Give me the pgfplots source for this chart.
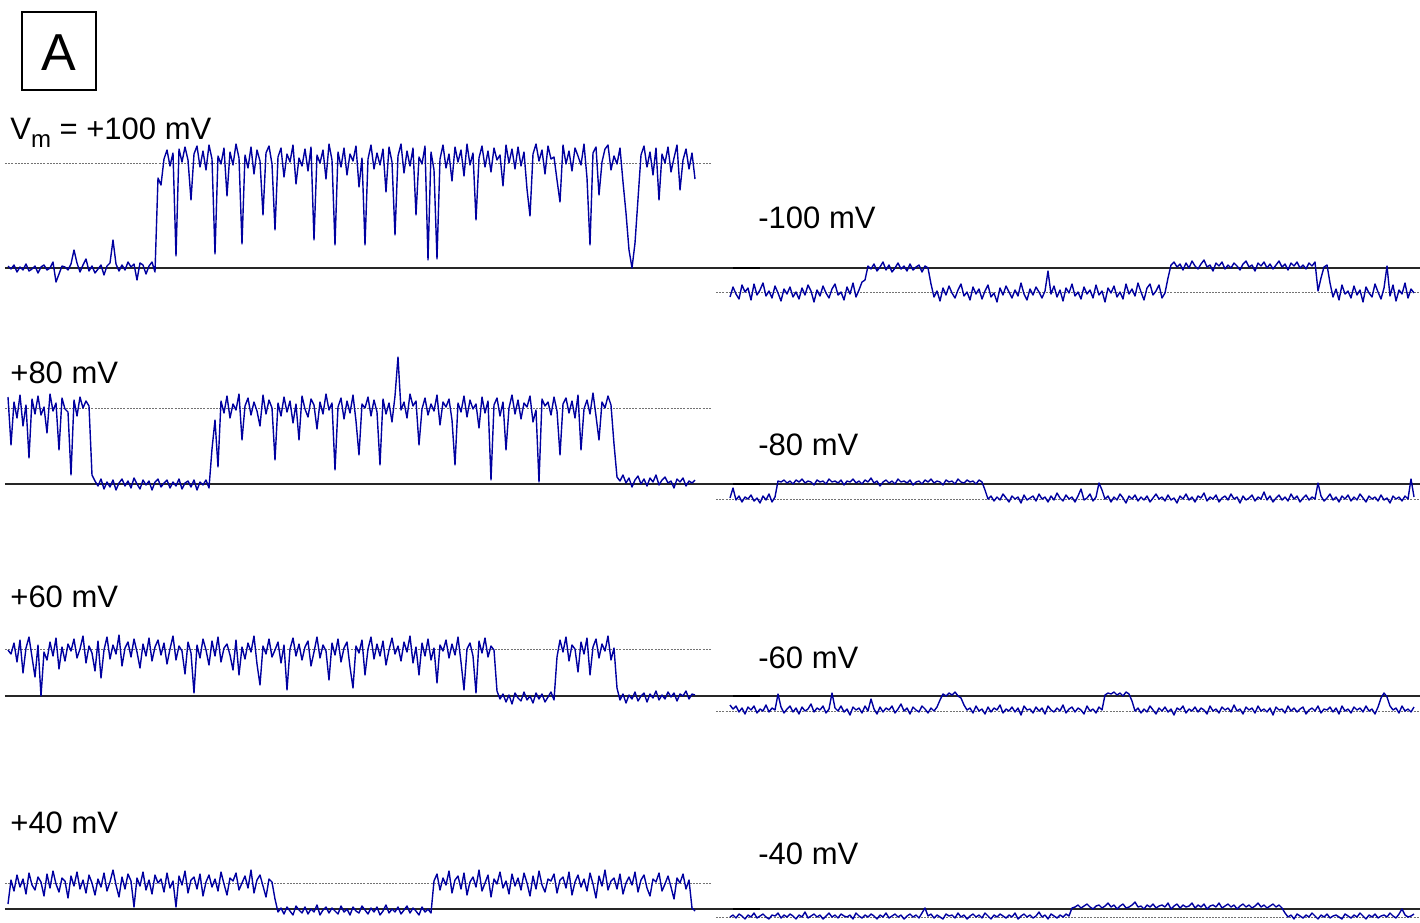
\documentclass[border=0pt]{standalone}
\usepackage{fontspec}
\setmainfont{Liberation Sans}
\usepackage{pgfplots}
\usepackage{pgfplotstable}
\pgfplotsset{compat=1.18}
\definecolor{trblue}{RGB}{0,0,160}

% single-channel records, one sample every 3 ms, current in pA
% +100 mV
\pgfplotstableread[row sep=\\]{
y\\
0.2\\ -0.1\\ 0.3\\ -0.4\\ 0.1\\ -0.2\\ 0.4\\ -0.3\\ -0.1\\ 0.2\\
-0.5\\ 0.1\\ 0.3\\ -0.2\\ 0.0\\ 0.6\\ -1.4\\ -0.6\\ 0.2\\ 0.1\\
-0.2\\ 0.4\\ 1.8\\ 0.5\\ -0.4\\ 0.3\\ 0.9\\ -0.3\\ 0.2\\ -0.5\\
-0.1\\ 0.3\\ -0.7\\ 0.2\\ 0.5\\ 2.8\\ 0.4\\ -0.3\\ 0.3\\ -0.2\\
0.6\\ 0.1\\ 0.4\\ -1.2\\ 0.5\\ 0.3\\ -0.6\\ 0.2\\ 0.6\\ -0.4\\
9.0\\ 8.3\\ 10.9\\ 11.8\\ 10.2\\ 11.5\\ 1.2\\ 11.9\\ 10.6\\ 12.1\\
10.8\\ 6.8\\ 11.4\\ 12.2\\ 10.1\\ 11.7\\ 9.8\\ 12.3\\ 10.9\\ 1.4\\
11.2\\ 10.4\\ 12.0\\ 7.2\\ 11.6\\ 10.3\\ 12.4\\ 11.0\\ 2.4\\ 11.3\\
10.0\\ 12.1\\ 9.4\\ 11.8\\ 10.7\\ 5.3\\ 11.5\\ 12.2\\ 10.4\\ 3.8\\
11.1\\ 12.0\\ 9.1\\ 11.4\\ 10.6\\ 12.3\\ 8.4\\ 11.0\\ 10.2\\ 11.9\\
9.7\\ 12.1\\ 2.8\\ 11.3\\ 10.5\\ 11.8\\ 8.9\\ 12.4\\ 10.8\\ 2.3\\
11.6\\ 10.1\\ 12.0\\ 9.3\\ 11.4\\ 10.7\\ 12.2\\ 8.1\\ 11.0\\ 2.3\\
10.9\\ 12.3\\ 9.9\\ 11.5\\ 10.3\\ 11.9\\ 7.6\\ 12.1\\ 10.6\\ 3.3\\
11.2\\ 12.4\\ 9.5\\ 11.7\\ 10.2\\ 12.0\\ 5.3\\ 11.1\\ 10.4\\ 12.2\\
0.8\\ 11.6\\ 9.8\\ 0.9\\ 10.9\\ 12.3\\ 10.0\\ 11.4\\ 8.7\\ 12.1\\
10.6\\ 11.8\\ 9.2\\ 12.4\\ 10.3\\ 11.5\\ 4.8\\ 11.0\\ 12.2\\ 10.1\\
11.7\\ 9.6\\ 12.0\\ 10.8\\ 11.3\\ 8.2\\ 12.3\\ 10.5\\ 11.9\\ 9.9\\
12.1\\ 10.2\\ 11.6\\ 7.9\\ 5.2\\ 11.4\\ 12.4\\ 10.7\\ 11.8\\ 9.4\\
12.2\\ 10.9\\ 11.1\\ 8.8\\ 6.6\\ 12.3\\ 10.4\\ 11.7\\ 9.7\\ 12.0\\
11.2\\ 10.3\\ 12.4\\ 9.0\\ 2.3\\ 11.5\\ 12.1\\ 7.3\\ 10.6\\ 11.9\\
12.3\\ 9.8\\ 11.2\\ 10.4\\ 12.0\\ 8.6\\ 5.5\\ 1.8\\ 0.0\\ 2.5\\
6.9\\ 11.3\\ 12.2\\ 10.1\\ 11.6\\ 9.3\\ 12.0\\ 6.8\\ 11.4\\ 10.5\\
12.1\\ 9.6\\ 11.0\\ 12.3\\ 7.8\\ 10.8\\ 11.9\\ 9.9\\ 11.5\\ 8.9\\
}\tPa
% +80 mV
\pgfplotstableread[row sep=\\]{
y\\
8.7\\ 3.9\\ 8.2\\ 6.6\\ 8.9\\ 5.8\\ 7.9\\ 2.6\\ 8.5\\ 7.0\\
8.8\\ 6.9\\ 7.7\\ 5.1\\ 9.0\\ 7.3\\ 8.1\\ 3.4\\ 8.6\\ 7.5\\
7.2\\ 0.9\\ 8.4\\ 6.8\\ 8.7\\ 7.6\\ 8.3\\ 7.8\\ 0.9\\ 0.3\\
-0.2\\ 0.5\\ -0.5\\ 0.2\\ -0.3\\ 0.4\\ -0.6\\ 0.1\\ 0.5\\ -0.2\\
0.3\\ -0.4\\ 0.6\\ 0.0\\ -0.5\\ 0.4\\ -0.1\\ 0.3\\ -0.6\\ 0.2\\
0.5\\ -0.3\\ 0.1\\ 0.4\\ -0.4\\ 0.2\\ -0.2\\ 0.5\\ -0.5\\ 0.1\\
0.3\\ -0.3\\ 0.4\\ -0.6\\ 0.2\\ -0.1\\ 0.4\\ -0.4\\ 3.5\\ 6.4\\
1.7\\ 8.3\\ 7.1\\ 8.8\\ 6.6\\ 8.0\\ 7.4\\ 9.0\\ 4.4\\ 7.8\\
8.6\\ 6.9\\ 8.2\\ 7.3\\ 5.8\\ 8.9\\ 7.0\\ 8.4\\ 7.6\\ 2.4\\
8.1\\ 6.8\\ 8.7\\ 7.2\\ 8.3\\ 6.1\\ 8.0\\ 4.4\\ 8.8\\ 7.5\\
6.7\\ 8.5\\ 7.9\\ 5.5\\ 8.2\\ 7.0\\ 9.0\\ 7.4\\ 8.1\\ 1.4\\
7.7\\ 8.6\\ 6.5\\ 8.3\\ 7.1\\ 8.9\\ 6.3\\ 2.9\\ 8.0\\ 7.6\\
8.7\\ 6.8\\ 8.4\\ 7.2\\ 1.9\\ 8.5\\ 7.0\\ 8.1\\ 6.2\\ 8.8\\
12.7\\ 7.4\\ 8.2\\ 6.6\\ 9.0\\ 7.8\\ 8.3\\ 3.9\\ 7.5\\ 8.6\\
6.9\\ 8.0\\ 7.3\\ 8.9\\ 5.9\\ 8.2\\ 7.7\\ 8.5\\ 6.4\\ 1.9\\
8.1\\ 7.2\\ 8.8\\ 6.7\\ 8.4\\ 7.5\\ 8.0\\ 5.6\\ 8.7\\ 7.1\\
8.3\\ 0.4\\ 7.9\\ 8.6\\ 6.8\\ 8.2\\ 3.4\\ 7.6\\ 8.9\\ 7.0\\
8.4\\ 6.5\\ 8.1\\ 7.7\\ 8.8\\ 6.2\\ 7.4\\ 0.2\\ 8.5\\ 7.8\\
8.2\\ 6.9\\ 8.7\\ 7.3\\ 2.9\\ 8.0\\ 8.6\\ 7.1\\ 8.3\\ 6.6\\
8.9\\ 3.4\\ 7.5\\ 8.4\\ 7.0\\ 9.1\\ 6.8\\ 4.4\\ 8.2\\ 7.6\\
8.8\\ 7.9\\ 4.0\\ 0.7\\ 0.3\\ 0.9\\ 0.1\\ 0.6\\ -0.3\\ 0.4\\
0.8\\ 0.0\\ 0.5\\ -0.2\\ 0.6\\ 0.2\\ 0.9\\ -0.1\\ 0.4\\ 0.7\\
0.1\\ 0.3\\ -0.4\\ 0.5\\ 0.2\\ 0.6\\ -0.2\\ 0.3\\ 0.1\\ 0.4\\
}\tPb
% +60 mV
\pgfplotstableread[row sep=\\]{
y\\
4.6\\ 4.2\\ 5.3\\ 3.4\\ 5.6\\ 2.3\\ 4.8\\ 5.9\\ 3.9\\ 1.9\\
5.1\\ 0.0\\ 4.4\\ 3.6\\ 5.4\\ 4.0\\ 5.8\\ 2.7\\ 4.9\\ 3.5\\
5.2\\ 4.5\\ 5.7\\ 3.8\\ 4.7\\ 6.0\\ 3.3\\ 5.0\\ 4.3\\ 2.5\\
5.5\\ 1.8\\ 4.6\\ 5.9\\ 3.7\\ 5.1\\ 4.2\\ 6.1\\ 3.0\\ 4.8\\
5.4\\ 3.9\\ 5.7\\ 4.4\\ 2.8\\ 5.2\\ 4.0\\ 5.8\\ 3.5\\ 4.9\\
5.6\\ 4.1\\ 5.3\\ 3.2\\ 4.7\\ 6.0\\ 3.6\\ 5.0\\ 4.5\\ 2.2\\
5.4\\ 4.3\\ 0.3\\ 5.1\\ 3.8\\ 5.7\\ 4.6\\ 3.1\\ 5.5\\ 4.0\\
5.9\\ 3.4\\ 4.8\\ 5.2\\ 4.1\\ 2.6\\ 5.6\\ 2.1\\ 4.9\\ 3.7\\
5.3\\ 4.4\\ 6.0\\ 3.2\\ 1.1\\ 5.0\\ 4.2\\ 5.7\\ 3.9\\ 4.6\\
5.4\\ 3.3\\ 5.1\\ 0.6\\ 4.7\\ 5.8\\ 4.0\\ 5.2\\ 3.6\\ 4.9\\
5.5\\ 3.0\\ 4.4\\ 5.9\\ 3.8\\ 5.1\\ 4.5\\ 1.6\\ 5.3\\ 4.1\\
5.7\\ 3.4\\ 4.8\\ 5.4\\ 2.9\\ 0.8\\ 5.0\\ 4.3\\ 5.6\\ 2.1\\
4.7\\ 5.9\\ 3.7\\ 5.2\\ 4.0\\ 5.5\\ 3.1\\ 4.6\\ 5.8\\ 4.2\\
5.0\\ 3.5\\ 5.4\\ 4.4\\ 6.0\\ 3.3\\ 4.9\\ 2.1\\ 5.3\\ 4.0\\
5.7\\ 3.6\\ 4.8\\ 1.3\\ 5.1\\ 4.5\\ 5.6\\ 3.8\\ 5.2\\ 4.1\\
5.9\\ 3.4\\ 0.6\\ 4.7\\ 5.3\\ 4.0\\ 0.3\\ 5.5\\ 4.3\\ 5.8\\
3.9\\ 5.0\\ 4.6\\ 0.5\\ -0.3\\ 0.2\\ -0.6\\ 0.1\\ -0.8\\ 0.3\\
-0.2\\ -0.5\\ 0.4\\ -0.4\\ 0.0\\ -0.7\\ 0.3\\ -0.3\\ 0.2\\ -0.6\\
-0.1\\ 0.4\\ -0.4\\ 3.9\\ 5.6\\ 4.4\\ 5.9\\ 3.5\\ 5.1\\ 4.7\\
2.4\\ 5.4\\ 4.2\\ 5.8\\ 2.1\\ 4.9\\ 5.7\\ 3.8\\ 5.2\\ 4.5\\
6.0\\ 3.6\\ 4.8\\ 0.8\\ -0.4\\ 0.2\\ -0.7\\ 0.1\\ -0.3\\ 0.4\\
-0.5\\ 0.0\\ 0.3\\ -0.6\\ 0.2\\ -0.2\\ 0.5\\ -0.4\\ 0.1\\ -0.3\\
0.4\\ -0.1\\ 0.3\\ -0.5\\ 0.2\\ 0.0\\ 0.5\\ -0.3\\ 0.2\\ 0.1\\
}\tPc
% +40 mV
\pgfplotstableread[row sep=\\]{
y\\
0.5\\ 2.9\\ 1.8\\ 3.4\\ 2.2\\ 3.0\\ 1.5\\ 3.6\\ 2.4\\ 1.9\\
3.2\\ 2.7\\ 1.3\\ 3.5\\ 2.1\\ 3.8\\ 2.5\\ 1.7\\ 3.1\\ 2.8\\
1.1\\ 3.3\\ 2.3\\ 3.7\\ 2.0\\ 2.9\\ 1.6\\ 3.4\\ 2.6\\ 1.4\\
3.0\\ 2.2\\ 3.6\\ 1.8\\ 2.7\\ 3.9\\ 2.4\\ 1.2\\ 3.2\\ 2.0\\
3.5\\ 2.8\\ 0.2\\ 3.1\\ 2.3\\ 3.7\\ 1.9\\ 2.9\\ 1.5\\ 3.4\\
2.6\\ 3.0\\ 1.7\\ 3.6\\ 2.1\\ 2.8\\ 0.2\\ 3.3\\ 2.4\\ 3.8\\
1.6\\ 2.9\\ 3.2\\ 2.0\\ 3.5\\ 1.3\\ 2.7\\ 3.4\\ 2.2\\ 3.0\\
1.8\\ 3.7\\ 2.5\\ 1.4\\ 3.1\\ 2.8\\ 3.6\\ 1.9\\ 2.6\\ 3.3\\
2.1\\ 3.9\\ 1.6\\ 2.9\\ 3.4\\ 2.3\\ 1.2\\ 3.0\\ 2.7\\ 1.0\\
-0.3\\ 0.1\\ -0.5\\ 0.2\\ -0.2\\ -0.6\\ 0.3\\ -0.1\\ -0.4\\ 0.2\\
-0.5\\ 0.0\\ -0.3\\ 0.4\\ -0.6\\ -0.1\\ 0.2\\ -0.4\\ 0.1\\ -0.2\\
-0.5\\ 0.3\\ -0.3\\ 0.0\\ -0.6\\ 0.2\\ -0.2\\ -0.4\\ 0.3\\ -0.1\\
-0.5\\ 0.1\\ -0.3\\ 0.2\\ -0.6\\ -0.2\\ 0.4\\ -0.4\\ 0.0\\ -0.3\\
0.2\\ -0.5\\ -0.1\\ 0.3\\ -0.4\\ 0.1\\ -0.2\\ -0.6\\ 0.2\\ -0.3\\
0.0\\ -0.4\\ 2.8\\ 3.5\\ 1.9\\ 3.1\\ 2.4\\ 3.8\\ 1.6\\ 2.9\\
3.3\\ 2.0\\ 3.6\\ 1.4\\ 2.7\\ 3.2\\ 2.2\\ 3.9\\ 1.8\\ 2.6\\
3.4\\ 1.2\\ 3.0\\ 2.5\\ 3.7\\ 2.1\\ 2.8\\ 1.5\\ 3.5\\ 2.3\\
3.1\\ 1.9\\ 3.6\\ 2.6\\ 1.3\\ 3.3\\ 2.0\\ 3.8\\ 2.4\\ 1.7\\
3.0\\ 2.8\\ 3.5\\ 1.6\\ 2.9\\ 3.2\\ 2.1\\ 3.7\\ 1.4\\ 2.7\\
3.4\\ 2.2\\ 3.0\\ 1.8\\ 3.6\\ 2.5\\ 1.1\\ 3.3\\ 2.3\\ 3.9\\
1.9\\ 2.8\\ 3.1\\ 2.0\\ 3.5\\ 1.5\\ 2.6\\ 3.2\\ 2.4\\ 3.7\\
1.7\\ 2.9\\ 3.4\\ 2.1\\ 1.3\\ 3.0\\ 2.7\\ 3.6\\ 1.8\\ 2.5\\
3.3\\ 2.2\\ 1.0\\ 3.1\\ 2.6\\ 3.5\\ 2.0\\ 2.9\\ 0.1\\ -0.2\\
}\tPd
% -100 mV
\pgfplotstableread[row sep=\\]{
y\\
-2.9\\ -1.9\\ -2.6\\ -3.1\\ -1.7\\ -2.4\\ -2.0\\ -3.2\\ -1.6\\ -2.7\\
-2.2\\ -1.5\\ -2.8\\ -2.3\\ -3.0\\ -1.8\\ -2.5\\ -3.3\\ -2.1\\ -2.6\\
-1.9\\ -2.9\\ -2.4\\ -3.1\\ -2.0\\ -2.7\\ -1.7\\ -2.3\\ -3.4\\ -2.2\\
-2.8\\ -1.8\\ -2.5\\ -3.0\\ -2.1\\ -1.6\\ -2.7\\ -2.4\\ -3.2\\ -1.9\\
-2.6\\ -1.5\\ -2.9\\ -2.2\\ -1.4\\ -1.2\\ 0.2\\ -0.1\\ 0.4\\ -0.3\\
0.1\\ 0.6\\ -0.2\\ 0.3\\ -0.4\\ 0.0\\ 0.5\\ -0.1\\ 0.2\\ -0.3\\
0.4\\ -0.2\\ 0.1\\ 0.3\\ -0.4\\ 0.2\\ 0.0\\ -1.6\\ -2.9\\ -2.3\\
-3.3\\ -2.0\\ -2.7\\ -1.8\\ -2.5\\ -3.0\\ -2.2\\ -1.6\\ -2.8\\ -2.4\\
-3.2\\ -1.9\\ -2.6\\ -2.1\\ -3.1\\ -2.3\\ -1.7\\ -2.9\\ -2.5\\ -3.4\\
-2.0\\ -2.7\\ -1.8\\ -2.4\\ -3.0\\ -2.2\\ -2.8\\ -1.5\\ -2.6\\ -3.2\\
-2.1\\ -2.7\\ -1.9\\ -2.4\\ -3.0\\ -2.3\\ -0.3\\ -2.6\\ -1.8\\ -2.9\\
-2.2\\ -3.3\\ -2.0\\ -2.5\\ -1.6\\ -2.8\\ -2.4\\ -3.1\\ -1.9\\ -2.6\\
-2.2\\ -3.0\\ -1.7\\ -2.7\\ -2.3\\ -3.4\\ -2.0\\ -2.5\\ -1.8\\ -2.9\\
-2.4\\ -3.1\\ -1.6\\ -2.6\\ -2.1\\ -2.8\\ -1.5\\ -2.4\\ -3.2\\ -2.0\\
-1.6\\ -2.7\\ -2.3\\ -1.7\\ -3.0\\ -2.5\\ -1.0\\ 0.3\\ 0.6\\ 0.1\\
0.4\\ -0.2\\ 0.5\\ 0.0\\ 0.7\\ 0.2\\ -0.1\\ 0.4\\ 0.8\\ 0.1\\
0.3\\ -0.3\\ 0.5\\ 0.2\\ 0.6\\ -0.1\\ 0.3\\ 0.0\\ 0.5\\ 0.2\\
-0.2\\ 0.4\\ 0.7\\ 0.1\\ 0.3\\ -0.3\\ 0.5\\ 0.2\\ 0.6\\ 0.0\\
0.4\\ -0.1\\ 0.3\\ 0.7\\ 0.1\\ 0.4\\ -0.2\\ 0.5\\ 0.2\\ 0.6\\
0.0\\ 0.3\\ -0.1\\ 0.5\\ 0.2\\ 0.6\\ -2.3\\ -1.0\\ 0.1\\ 0.3\\
-1.5\\ -2.9\\ -2.1\\ -3.2\\ -1.7\\ -2.6\\ -2.3\\ -3.0\\ -1.8\\ -2.7\\
-2.2\\ -3.4\\ -1.9\\ -2.5\\ -2.9\\ -1.6\\ -2.4\\ -3.1\\ -2.0\\ 0.2\\
-2.8\\ -1.7\\ -3.3\\ -2.2\\ -2.6\\ -1.5\\ -3.0\\ -2.1\\ -2.5\\
}\tMa
% -80 mV
\pgfplotstableread[row sep=\\]{
y\\
-1.4\\ -0.4\\ -1.6\\ -1.2\\ -1.8\\ -1.3\\ -1.5\\ -1.1\\ -1.7\\ -1.4\\
-1.9\\ -1.2\\ -1.6\\ -1.0\\ -1.8\\ -1.3\\ 0.3\\ 0.2\\ 0.4\\ 0.1\\
0.3\\ 0.0\\ 0.4\\ 0.2\\ 0.5\\ 0.1\\ 0.3\\ 0.2\\ -0.1\\ 0.4\\
0.2\\ 0.3\\ 0.0\\ 0.5\\ 0.2\\ 0.3\\ 0.1\\ 0.4\\ -0.1\\ 0.3\\
0.2\\ 0.5\\ 0.1\\ 0.3\\ 0.0\\ 0.4\\ 0.2\\ 0.6\\ 0.1\\ 0.3\\
-0.2\\ 0.2\\ 0.4\\ 0.1\\ 0.3\\ 0.0\\ 0.5\\ 0.2\\ 0.3\\ 0.1\\
0.4\\ -0.1\\ 0.2\\ 0.3\\ 0.0\\ 0.4\\ 0.2\\ 0.5\\ 0.1\\ 0.3\\
0.2\\ -0.1\\ 0.4\\ 0.2\\ 0.3\\ 0.0\\ 0.5\\ 0.2\\ 0.1\\ 0.4\\
0.2\\ 0.3\\ 0.0\\ 0.4\\ 0.2\\ -0.6\\ -1.5\\ -1.2\\ -1.7\\ -1.3\\
-1.6\\ -1.0\\ -1.4\\ -1.8\\ -1.2\\ -1.5\\ -1.3\\ -1.9\\ -1.1\\ -1.6\\
-1.4\\ -1.2\\ -1.7\\ -1.0\\ -1.5\\ -1.3\\ -1.8\\ -1.2\\ -1.6\\ -0.9\\
-1.4\\ -1.7\\ -1.1\\ -1.5\\ -1.3\\ -1.8\\ -1.2\\ -0.5\\ -1.6\\ -1.4\\
-1.0\\ -1.7\\ -1.3\\ 0.1\\ -0.6\\ -1.5\\ -1.2\\ -1.8\\ -1.3\\ -1.6\\
-1.0\\ -1.4\\ -1.9\\ -1.2\\ -1.5\\ -1.1\\ -1.7\\ -1.3\\ -1.6\\ -1.2\\
-1.8\\ -1.4\\ -1.0\\ -1.5\\ -1.3\\ -1.7\\ -1.1\\ -1.6\\ -1.4\\ -1.9\\
-1.2\\ -1.5\\ -1.0\\ -1.6\\ -1.3\\ -1.8\\ -1.2\\ -1.4\\ -0.9\\ -1.7\\
-1.3\\ -1.5\\ -1.1\\ -1.8\\ -1.4\\ -1.2\\ -1.6\\ -1.0\\ -1.5\\ -1.3\\
-1.9\\ -1.2\\ -1.6\\ -1.4\\ -1.1\\ -1.7\\ -1.3\\ -1.5\\ -0.8\\ -1.6\\
-1.2\\ -1.8\\ -1.4\\ -1.1\\ -1.6\\ -1.3\\ -1.7\\ -1.0\\ -1.5\\ -1.2\\
-1.8\\ -1.4\\ -1.1\\ -1.6\\ -1.3\\ -1.5\\ 0.1\\ -1.2\\ -1.7\\ -1.4\\
-1.0\\ -1.6\\ -1.3\\ -1.8\\ -1.2\\ -1.5\\ -1.1\\ -1.7\\ -1.3\\ -1.6\\
-1.0\\ -1.4\\ -1.8\\ -1.2\\ -1.5\\ -1.3\\ -1.7\\ -1.1\\ -1.6\\ -1.4\\
-1.9\\ -1.2\\ -1.5\\ -1.3\\ -1.7\\ -1.2\\ -1.5\\ 0.5\\ -1.3\\
}\tMb
% -60 mV
\pgfplotstableread[row sep=\\]{
y\\
-0.9\\ -1.3\\ -1.0\\ -1.6\\ -1.2\\ -1.8\\ -1.1\\ -1.4\\ -1.0\\ -1.7\\
-1.3\\ -1.5\\ -0.9\\ -1.6\\ -1.2\\ -1.4\\ 0.2\\ -1.1\\ -1.7\\ -1.3\\
-1.0\\ -1.6\\ -1.2\\ -1.8\\ -1.1\\ -1.5\\ -1.3\\ -0.8\\ -1.6\\ -1.2\\
-1.4\\ -1.0\\ -1.7\\ -1.3\\ 0.3\\ -1.2\\ -1.5\\ -1.0\\ -1.6\\ -1.3\\
-1.9\\ -1.1\\ -1.4\\ -1.2\\ -1.7\\ -1.0\\ -1.5\\ -0.3\\ -1.3\\ -1.8\\
-1.1\\ -1.6\\ -1.2\\ -1.4\\ -1.0\\ -1.7\\ -1.3\\ -0.8\\ -1.5\\ -1.2\\
-1.8\\ -1.1\\ -1.4\\ -1.6\\ -1.0\\ -1.3\\ -1.7\\ -1.2\\ -1.5\\ -1.1\\
-0.4\\ 0.2\\ 0.0\\ 0.3\\ 0.1\\ 0.4\\ 0.0\\ -0.2\\ -0.9\\ -1.4\\
-1.2\\ -1.7\\ -1.0\\ -1.5\\ -1.3\\ -1.8\\ -1.1\\ -1.6\\ -1.2\\ -1.4\\
-0.9\\ -1.7\\ -1.3\\ -1.5\\ -1.1\\ -1.6\\ -1.2\\ -1.9\\ -1.0\\ -1.4\\
-1.3\\ -1.7\\ -1.1\\ -1.5\\ -1.2\\ -1.8\\ -1.0\\ -1.4\\ -1.6\\ -1.2\\
-1.5\\ -0.9\\ -1.7\\ -1.3\\ -1.1\\ -1.6\\ -1.2\\ -1.4\\ -1.8\\ -1.0\\
-1.5\\ -1.3\\ -1.7\\ -1.1\\ -1.4\\ 0.1\\ 0.3\\ 0.2\\ 0.4\\ 0.1\\
0.3\\ 0.0\\ 0.4\\ 0.2\\ -0.5\\ -1.5\\ -1.2\\ -1.7\\ -1.3\\ -1.6\\
-1.0\\ -1.4\\ -1.8\\ -1.2\\ -1.5\\ -1.1\\ -1.6\\ -1.3\\ -1.9\\ -1.2\\
-1.4\\ -1.0\\ -1.7\\ -1.3\\ -1.5\\ -1.1\\ -1.6\\ -1.2\\ -1.4\\ -1.8\\
-1.0\\ -1.5\\ -1.3\\ -1.7\\ -1.1\\ -1.4\\ -1.2\\ -1.6\\ -0.9\\ -1.5\\
-1.3\\ -1.8\\ -1.1\\ -1.4\\ -1.2\\ -1.7\\ -1.0\\ -1.5\\ -1.3\\ -1.6\\
-1.2\\ -1.9\\ -1.1\\ -1.4\\ -1.3\\ -1.7\\ -1.0\\ -1.5\\ -1.2\\ -1.6\\
-1.3\\ -1.1\\ -1.8\\ -1.4\\ -1.2\\ -1.5\\ -1.0\\ -1.7\\ -1.3\\ -1.4\\
-1.1\\ -1.6\\ -1.2\\ -1.8\\ -1.0\\ -1.5\\ -1.3\\ -1.7\\ -1.1\\ -1.4\\
-1.2\\ -1.6\\ -1.0\\ -1.5\\ -1.3\\ -1.8\\ -1.1\\ -0.2\\ 0.3\\ -0.1\\
-1.0\\ -1.4\\ -1.2\\ -1.7\\ -1.0\\ -1.5\\ -1.3\\ -1.6\\ -1.1\\
}\tMc
% -40 mV
\pgfplotstableread[row sep=\\]{
y\\
-0.8\\ -0.6\\ -0.9\\ -0.5\\ -0.7\\ -1.0\\ -0.6\\ -0.8\\ -0.4\\ -0.9\\
-0.7\\ -0.5\\ -0.8\\ -1.0\\ -0.6\\ -0.7\\ -0.4\\ -0.9\\ -0.6\\ -0.8\\
-0.5\\ -0.7\\ -1.0\\ -0.6\\ -0.8\\ -0.3\\ -0.9\\ -0.7\\ -0.5\\ -0.8\\
-0.6\\ -1.0\\ -0.7\\ -0.4\\ -0.8\\ -0.6\\ -0.9\\ -0.5\\ -0.7\\ -0.8\\
-0.6\\ -1.0\\ -0.4\\ -0.7\\ -0.9\\ -0.6\\ -0.8\\ -0.5\\ -0.7\\ -1.0\\
-0.6\\ -0.8\\ -0.4\\ -0.9\\ -0.7\\ -0.5\\ -0.8\\ -0.6\\ -1.0\\ -0.7\\
-0.5\\ -0.8\\ -0.6\\ -0.9\\ -0.4\\ 0.1\\ -0.7\\ -0.5\\ -0.9\\ -0.6\\
-0.8\\ -1.0\\ -0.5\\ -0.7\\ -0.6\\ -0.9\\ -0.4\\ -0.8\\ -0.6\\ -1.0\\
-0.7\\ -0.5\\ -0.8\\ -0.6\\ -0.9\\ -0.4\\ -0.7\\ -1.0\\ -0.6\\ -0.8\\
-0.5\\ -0.7\\ -0.9\\ -0.6\\ -0.8\\ -0.4\\ -1.0\\ -0.7\\ -0.5\\ -0.8\\
-0.6\\ -0.9\\ -0.7\\ -0.3\\ -0.8\\ -0.6\\ -1.0\\ -0.5\\ -0.7\\ -0.9\\
-0.6\\ -0.8\\ -0.5\\ -0.7\\ 0.1\\ 0.2\\ 0.4\\ 0.1\\ 0.3\\ 0.5\\
0.2\\ 0.0\\ 0.3\\ 0.4\\ 0.1\\ 0.3\\ 0.6\\ 0.2\\ 0.4\\ 0.0\\
0.3\\ 0.5\\ 0.1\\ 0.2\\ 0.4\\ 0.7\\ 0.2\\ 0.3\\ 0.0\\ 0.4\\
0.2\\ 0.5\\ 0.1\\ 0.3\\ 0.4\\ 0.2\\ 0.6\\ 0.0\\ 0.3\\ 0.5\\
0.1\\ 0.4\\ 0.2\\ 0.3\\ 0.6\\ 0.1\\ 0.4\\ 0.2\\ 0.5\\ 0.0\\
0.3\\ 0.4\\ 0.2\\ 0.6\\ 0.1\\ 0.3\\ 0.5\\ 0.2\\ 0.4\\ 0.0\\
0.3\\ 0.5\\ 0.2\\ 0.4\\ 0.1\\ 0.3\\ 0.6\\ 0.2\\ 0.4\\ 0.1\\
0.3\\ 0.5\\ 0.2\\ 0.4\\ 0.1\\ -0.4\\ -0.8\\ -0.6\\ -1.0\\ -0.5\\
-0.7\\ -0.9\\ -0.6\\ -0.8\\ -0.4\\ -0.7\\ -1.0\\ -0.6\\ -0.8\\ -0.5\\
-0.9\\ -0.7\\ -0.6\\ -0.8\\ -1.0\\ -0.5\\ -0.7\\ -0.9\\ -0.6\\ -0.8\\
-0.4\\ -0.7\\ -1.0\\ -0.6\\ -0.8\\ -0.5\\ -0.9\\ -0.7\\ -0.6\\ -0.8\\
-0.4\\ -0.7\\ -0.9\\ -0.5\\ 0.0\\ -0.6\\ -0.8\\ -0.7\\ -0.5\\
}\tMd

% 1 px of the figure = 0.5pt; 1 ms = 1 px, 1 pA = 10 px
\pgfplotsset{
  trace/.style={hide axis, clip=false, x=0.5pt, y=5pt,
    xmin=0, xmax=690, ymin=-4, ymax=13, anchor=south west},
}
\tikzset{
  closedlvl/.style={draw=black!85, line width=0.65pt},
  openlvl/.style={draw=black!55, line width=0.35pt, dash pattern=on 1pt off 0.6pt},
  lbl/.style={anchor=base west, inner sep=0pt, font=\fontsize{15.5}{18}\selectfont},
}
\newcommand{\sig}[1]{\addplot[trblue, line width=0.7pt, line join=round, mark=none]
  table[x expr=\coordindex*3, y=y] {#1};}

\begin{document}
\begin{tikzpicture}
% left column, positive potentials
\begin{axis}[trace, at={(4pt,-154pt)}]
\draw[closedlvl] (axis cs:-3,0) -- (axis cs:1412,0);
\draw[openlvl] (axis cs:-3,10.5) -- (axis cs:704,10.5);
\sig{\tPa}
\end{axis}
\begin{axis}[trace, at={(4pt,-262pt)}]
\draw[closedlvl] (axis cs:-3,0) -- (axis cs:1412,0);
\draw[openlvl] (axis cs:-3,7.6) -- (axis cs:704,7.6);
\sig{\tPb}
\end{axis}
\begin{axis}[trace, at={(4pt,-368pt)}]
\draw[closedlvl] (axis cs:-3,0) -- (axis cs:1412,0);
\draw[openlvl] (axis cs:-3,4.7) -- (axis cs:704,4.7);
\sig{\tPc}
\end{axis}
\begin{axis}[trace, at={(4pt,-474.5pt)}]
\draw[closedlvl] (axis cs:-3,0) -- (axis cs:1412,0);
\draw[openlvl] (axis cs:-3,2.6) -- (axis cs:704,2.6);
\sig{\tPd}
\end{axis}
% right column, negative potentials
\begin{axis}[trace, at={(365pt,-154pt)}]
\draw[black, line width=1pt] (axis cs:3,0) -- (axis cs:30,0);
\draw[openlvl] (axis cs:-14,-2.4) -- (axis cs:690,-2.4);
\sig{\tMa}
\end{axis}
\begin{axis}[trace, at={(365pt,-262pt)}]
\draw[black, line width=1pt] (axis cs:3,0) -- (axis cs:30,0);
\draw[openlvl] (axis cs:-14,-1.5) -- (axis cs:690,-1.5);
\sig{\tMb}
\end{axis}
\begin{axis}[trace, at={(365pt,-368pt)}]
\draw[black, line width=1pt] (axis cs:3,0) -- (axis cs:30,0);
\draw[openlvl] (axis cs:-14,-1.5) -- (axis cs:690,-1.5);
\sig{\tMc}
\end{axis}
\begin{axis}[trace, at={(365pt,-474.5pt)}]
\draw[black, line width=1pt] (axis cs:3,0) -- (axis cs:30,0);
\draw[openlvl] (axis cs:-14,-0.8) -- (axis cs:690,-0.8);
\sig{\tMd}
\end{axis}

% panel letter and voltage labels
\draw[line width=0.75pt] (11pt,-6pt) rectangle (48pt,-45pt);
\node[anchor=base, inner sep=0pt, font=\fontsize{26}{30}\selectfont] at (29.5pt,-35pt) {A};
\node[lbl] at (5pt,-69.5pt) {V\raisebox{-4pt}{\fontsize{12}{14}\selectfont m} = +100 mV};
\node[lbl] at (5pt,-191.5pt) {+80 mV};
\node[lbl] at (5pt,-303.5pt) {+60 mV};
\node[lbl] at (5pt,-416.5pt) {+40 mV};
\node[lbl] at (379pt,-114pt) {-100 mV};
\node[lbl] at (379pt,-227.5pt) {-80 mV};
\node[lbl] at (379pt,-334pt) {-60 mV};
\node[lbl] at (379pt,-432pt) {-40 mV};

\pgfresetboundingbox
\path (0,0) rectangle (710pt,-461pt);
\end{tikzpicture}
\end{document}
